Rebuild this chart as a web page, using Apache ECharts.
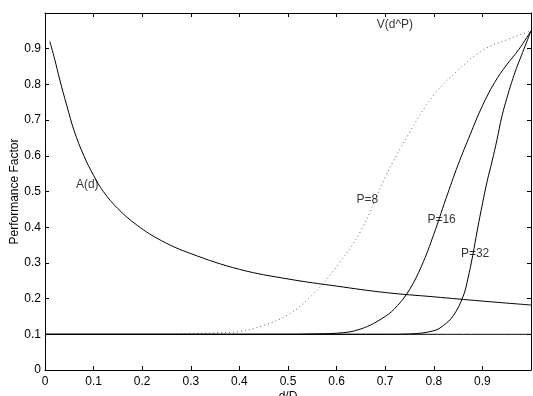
<!DOCTYPE html>
<html>
<head>
<meta charset="utf-8">
<script src="https://cdn.jsdelivr.net/npm/echarts@6/dist/echarts.min.js"></script>
<style>
  html, body { margin: 0; padding: 0; background: #fff; }
  #chart { width: 533px; height: 396px; }
</style>
</head>
<body>
<div id="chart"></div>
<script>
// A(d) curve
const aX = [0.01, 0.02, 0.03, 0.045, 0.06, 0.08, 0.1, 0.12, 0.15, 0.19, 0.24, 0.3, 0.4, 0.5, 0.6, 0.7, 0.8, 0.9, 1.0];
const aY = [0.92, 0.87, 0.815, 0.74, 0.67, 0.6, 0.545, 0.5, 0.452, 0.405, 0.362, 0.326, 0.282, 0.255, 0.235, 0.217, 0.205, 0.193, 0.182];

// V(d^P) curves
const p8X = [0, 0.25, 0.3, 0.35, 0.4, 0.45, 0.5, 0.55, 0.6, 0.65, 0.7, 0.75, 0.8, 0.85, 0.9, 0.95, 1.0];
const p8Y = [0.1, 0.1, 0.102, 0.104, 0.108, 0.125, 0.155, 0.21, 0.29, 0.39, 0.54, 0.665, 0.77, 0.84, 0.895, 0.925, 0.95];

const p16X = [0, 0.5, 0.55, 0.6, 0.65, 0.7, 0.725, 0.75, 0.775, 0.8, 0.825, 0.85, 0.875, 0.9, 0.925, 0.95, 0.975, 1.0];
const p16Y = [0.1, 0.1, 0.101, 0.103, 0.115, 0.15, 0.18, 0.225, 0.292, 0.38, 0.48, 0.575, 0.66, 0.74, 0.805, 0.855, 0.898, 0.95];

const p32X = [0, 0.7, 0.75, 0.8, 0.82, 0.84, 0.86, 0.87, 0.88, 0.89, 0.9, 0.91, 0.92, 0.93, 0.94, 0.95, 0.96, 0.97, 0.98, 0.99, 1.0];
const p32Y = [0.1, 0.1, 0.101, 0.11, 0.125, 0.152, 0.205, 0.255, 0.32, 0.395, 0.465, 0.53, 0.585, 0.645, 0.71, 0.76, 0.805, 0.845, 0.88, 0.915, 0.95];

// flat line at 0.1
const baseX = [0, 1];
const baseY = [0.1, 0.1];

// text labels inside the plot
const labelNames = ['A(d)', 'V(d^P)', 'P=8', 'P=16', 'P=32'];
const labelX = [0.087, 0.72, 0.663, 0.816, 0.885];
const labelY = [0.518, 0.967, 0.476, 0.422, 0.327];

const zip = (xs, ys) => xs.map((x, i) => [x, ys[i]]);
const font = 'Liberation Sans, Arial, Helvetica, sans-serif';

const chart = echarts.init(document.getElementById('chart'), null, { renderer: 'canvas' });

const axisCommon = {
  type: 'value',
  min: 0,
  max: 1,
  interval: 0.1,
  axisLine: { show: true, onZero: false, lineStyle: { color: '#000', width: 1 } },
  axisTick: { show: true, inside: true, length: 4, lineStyle: { color: '#000' } },
  splitLine: { show: false },
};

const tickFmt = v => (v >= 0.999 ? '' : +v.toFixed(1) + '');

const solid = (name, data) => ({
  name,
  type: 'line',
  data,
  showSymbol: false,
  smooth: 0.4,
  lineStyle: { color: '#000', width: 1 },
  z: 3,
});

const option = {
  animation: false,
  backgroundColor: '#fff',
  grid: { left: 45, right: 2, top: 13, bottom: 26, containLabel: false, outerBoundsMode: 'none' },
  xAxis: [
    {
      ...axisCommon,
      position: 'bottom',
      name: 'd/D',
      nameLocation: 'middle',
      nameGap: 21,
      nameMoveOverlap: false,
      nameTextStyle: { color: '#000', fontSize: 12, fontFamily: font },
      axisLabel: { color: '#000', fontSize: 12, fontFamily: font, margin: 6, formatter: tickFmt },
    },
    {
      ...axisCommon,
      position: 'top',
      axisLabel: { show: false },
    },
  ],
  yAxis: [
    {
      ...axisCommon,
      position: 'left',
      name: 'Performance Factor',
      nameLocation: 'middle',
      nameGap: 24,
      nameMoveOverlap: false,
      nameTextStyle: { color: '#000', fontSize: 12, fontFamily: font },
      axisLabel: { color: '#000', fontSize: 12, fontFamily: font, margin: 4, formatter: tickFmt },
    },
    {
      ...axisCommon,
      position: 'right',
      axisLabel: { show: false },
    },
  ],
  series: [
    solid('base', zip(baseX, baseY)),
    solid('A(d)', zip(aX, aY)),
    {
      name: 'P=8',
      type: 'line',
      data: zip(p8X, p8Y),
      showSymbol: false,
      smooth: 0.4,
      lineStyle: { color: '#666', width: 1, type: [1, 3] },
      z: 2,
    },
    solid('P=16', zip(p16X, p16Y)),
    solid('P=32', zip(p32X, p32Y)),
    {
      name: 'labels',
      type: 'scatter',
      symbolSize: 0,
      data: labelNames.map((n, i) => ({ name: n, value: [labelX[i], labelY[i]] })),
      label: {
        show: true,
        position: 'inside',
        formatter: p => p.name,
        color: '#000',
        fontSize: 12,
        fontFamily: font,
      },
      z: 5,
    },
  ],
};

chart.setOption(option);
</script>
</body>
</html>
